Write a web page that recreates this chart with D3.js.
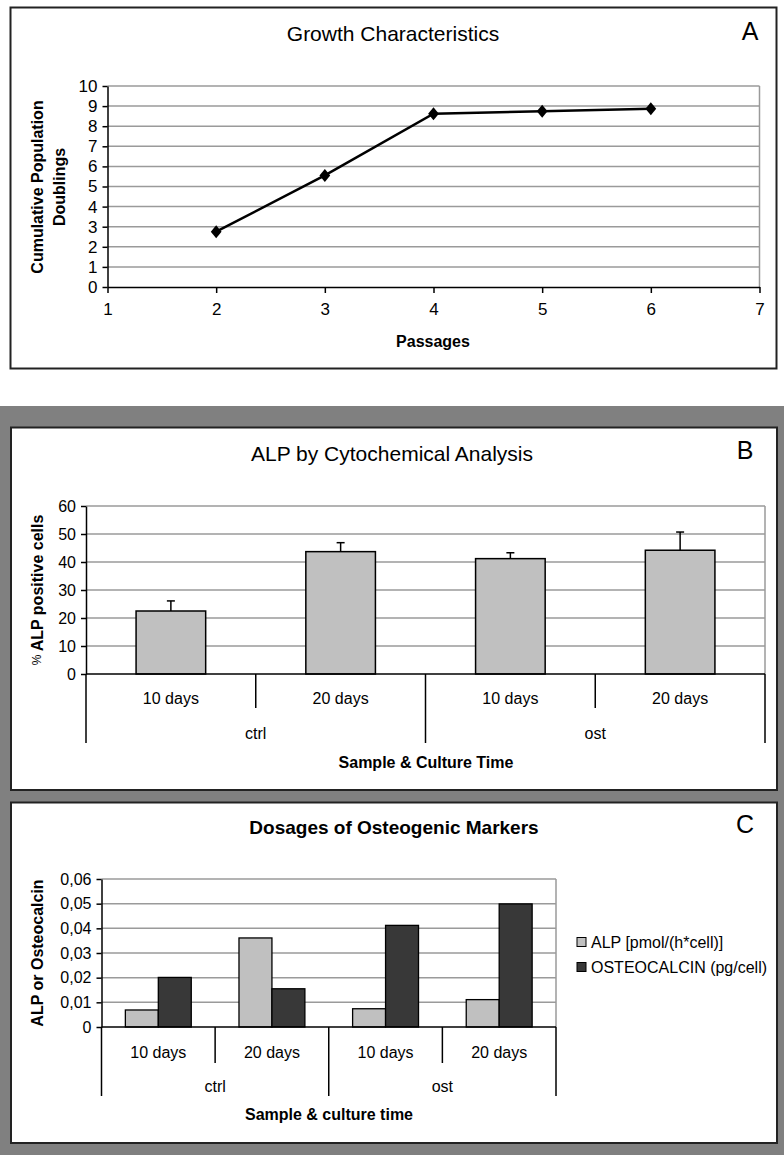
<!DOCTYPE html>
<html>
<head>
<meta charset="utf-8">
<script src="https://cdn.jsdelivr.net/npm/d3@7"></script>
<style>
    body { margin: 0; background: #fff; }
    svg { display: block; font-family: 'Liberation Sans', Arial, sans-serif; }
    .grid line { stroke: #9a9a9a; stroke-width: 1.5; }
    .axis path, .axis line { stroke: #000; stroke-width: 1.5; }
    .axis text { fill: #000; font-size: 16px; }
</style>
</head>
<body>
<div id="chart"></div>
<script>
//Data panel A
let passages = [2, 3, 4, 5, 6];
let doublings = [2.75, 5.55, 8.62, 8.74, 8.87];
let passageTicks = [1, 2, 3, 4, 5, 6, 7];
let doublingTicks = [0, 1, 2, 3, 4, 5, 6, 7, 8, 9, 10];

//Data panels B and C
let groups = ['ctrl', 'ost'];
let times = ['10 days', '20 days'];
let alpPositive = [22.5, 43.7, 41.2, 44.2];
let alpPositiveError = [3.6, 3.2, 2.1, 6.5];
let alpTicks = [0, 10, 20, 30, 40, 50, 60];

let seriesC = ['ALP [pmol/(h*cell)]', 'OSTEOCALCIN (pg/cell)'];
let alpDosage = [0.0069, 0.0361, 0.0074, 0.0111];
let osteocalcin = [0.0201, 0.0155, 0.0412, 0.0499];
let dosageTicks = [0, 0.01, 0.02, 0.03, 0.04, 0.05, 0.06];

let light_bar = '#c0c0c0', dark_bar = '#383838';

let svg = d3.select('#chart').append('svg')
    .attr('width', 784)
    .attr('height', 1155);

//Backgrounds and panel frames
svg.append('rect').attr('width', 784).attr('height', 1155).attr('fill', '#fff');
svg.append('rect').attr('y', 406).attr('width', 784).attr('height', 749).attr('fill', '#808080');
[[10.5, 7.5, 766, 361], [11, 427.5, 766, 362.5], [11, 802.5, 766, 340.5]].forEach(function(p) {
    svg.append('rect')
        .attr('x', p[0]).attr('y', p[1]).attr('width', p[2]).attr('height', p[3])
        .attr('fill', '#fff').attr('stroke', '#222').attr('stroke-width', 2);
});

function addText(x, y, txt, size, weight, anchor) {
    return svg.append('text')
        .attr('x', x).attr('y', y)
        .attr('dominant-baseline', 'central')
        .attr('text-anchor', anchor || 'middle')
        .style('font-size', size + 'px')
        .style('font-weight', weight || 'normal')
        .text(txt);
}

function yGrid(y, ticks, x0, x1) {
    svg.append('g').attr('class', 'grid')
        .selectAll('line')
        .data(ticks.filter(function(d) { return d != 0; }))
        .enter().append('line')
        .attr('x1', x0).attr('x2', x1)
        .attr('y1', function(d) { return y(d); })
        .attr('y2', function(d) { return y(d); });
    svg.append('line').attr('class', 'grid')
        .attr('x1', x1).attr('x2', x1)
        .attr('y1', y(ticks[0])).attr('y2', y(ticks[ticks.length - 1]))
        .attr('stroke', '#9a9a9a').attr('stroke-width', 1.5);
}

function yAxis(y, ticks, x0, fmt) {
    svg.append('g').attr('class', 'axis')
        .attr('transform', 'translate(' + x0 + ',0)')
        .call(d3.axisLeft(y).tickValues(ticks).tickSize(5).tickSizeOuter(0).tickPadding(5).tickFormat(fmt));
}

/* Panel A - line chart */
function getFirstChart() {
    let x = d3.scaleLinear().domain([1, 7]).range([107.5, 759.5]);
    let y = d3.scaleLinear().domain([0, 10]).range([287, 86]);

    yGrid(y, doublingTicks, x(1), x(7));
    yAxis(y, doublingTicks, x(1), d3.format('d'));
    svg.selectAll('.axis text').style('font-size', '17px');

    svg.append('g').attr('class', 'axis')
        .attr('transform', 'translate(0,' + y(0) + ')')
        .call(d3.axisBottom(x).tickValues(passageTicks).tickSize(6).tickSizeOuter(0).tickPadding(10).tickFormat(d3.format('d')))
        .selectAll('text').style('font-size', '17px');

    let data = passages.map(function(p, i) { return {x: p, y: doublings[i]}; });

    svg.append('path')
        .datum(data)
        .attr('fill', 'none')
        .attr('stroke', '#000')
        .attr('stroke-width', 2.5)
        .attr('d', d3.line().x(function(d) { return x(d.x); }).y(function(d) { return y(d.y); }));

    svg.selectAll('.marker')
        .data(data)
        .enter().append('path')
        .attr('class', 'marker')
        .attr('d', d3.symbol(d3.symbolSquare, 64))
        .attr('transform', function(d) { return 'translate(' + x(d.x) + ',' + y(d.y) + ') scale(0.95,1.15) rotate(45)'; })
        .attr('fill', '#000');

    addText(393, 33, 'Growth Characteristics', 21);
    addText(750, 31, 'A', 25);
    addText(433, 341, 'Passages', 16, 'bold');

    let yt = svg.append('text')
        .attr('transform', 'translate(37,187) rotate(-90)')
        .attr('text-anchor', 'middle')
        .style('font-size', '16px').style('font-weight', 'bold');
    yt.append('tspan').attr('x', 0).attr('dy', '0.35em').text('Cumulative Population');
    yt.append('tspan').attr('x', 0).attr('dy', '1.4em').text('Doublings');
}

/* Category axis with two levels (time / group) */
function categoryAxis(x, y0, shortLen, longLen, labelY, groupY) {
    let keys = x.domain();
    let bw = x.bandwidth();
    let edges = d3.range(keys.length + 1).map(function(i) { return x.range()[0] + i * bw; });

    svg.append('line')
        .attr('x1', edges[0]).attr('x2', edges[edges.length - 1])
        .attr('y1', y0).attr('y2', y0)
        .attr('stroke', '#000').attr('stroke-width', 1.5);

    svg.selectAll(null)
        .data(edges)
        .enter().append('line')
        .attr('x1', function(d) { return d; }).attr('x2', function(d) { return d; })
        .attr('y1', y0)
        .attr('y2', function(d, i) { return y0 + (i % times.length == 0 ? longLen : shortLen); })
        .attr('stroke', '#000').attr('stroke-width', 1.5);

    keys.forEach(function(k, i) {
        addText(x(k) + bw / 2, labelY, times[i % times.length], 16);
    });
    groups.forEach(function(g, i) {
        addText(edges[i * times.length] + bw * times.length / 2, groupY, g, 16);
    });
}

/* Panel B - bars with error */
function getSecondChart() {
    let keys = [];
    groups.forEach(function(g) { times.forEach(function(t) { keys.push(g + '-' + t); }); });

    let x = d3.scaleBand().domain(keys).range([86, 765]);
    let y = d3.scaleLinear().domain([0, 60]).range([674, 506]);

    yGrid(y, alpTicks, 86, 765);

    let barW = x.bandwidth() * 0.41;
    let data = keys.map(function(k, i) { return {key: k, value: alpPositive[i], err: alpPositiveError[i]}; });

    svg.selectAll('.bar-b')
        .data(data)
        .enter().append('rect')
        .attr('class', 'bar-b')
        .attr('x', function(d) { return x(d.key) + (x.bandwidth() - barW) / 2; })
        .attr('y', function(d) { return y(d.value); })
        .attr('width', barW)
        .attr('height', function(d) { return y(0) - y(d.value); })
        .attr('fill', light_bar).attr('stroke', '#000').attr('stroke-width', 1.5);

    let err = svg.selectAll('.err')
        .data(data)
        .enter().append('g').attr('class', 'err')
        .attr('stroke', '#000').attr('stroke-width', 1.5);
    err.append('line')
        .attr('x1', function(d) { return x(d.key) + x.bandwidth() / 2; })
        .attr('x2', function(d) { return x(d.key) + x.bandwidth() / 2; })
        .attr('y1', function(d) { return y(d.value); })
        .attr('y2', function(d) { return y(d.value + d.err); });
    err.append('line')
        .attr('x1', function(d) { return x(d.key) + x.bandwidth() / 2 - 4; })
        .attr('x2', function(d) { return x(d.key) + x.bandwidth() / 2 + 4; })
        .attr('y1', function(d) { return y(d.value + d.err); })
        .attr('y2', function(d) { return y(d.value + d.err); });

    yAxis(y, alpTicks, 86, d3.format('d'));
    categoryAxis(x, y(0), 34, 69, 698, 733);

    addText(392, 453, 'ALP by Cytochemical Analysis', 21);
    addText(745, 450, 'B', 25);
    addText(426, 762, 'Sample & Culture Time', 16, 'bold');

    let yt = svg.append('text')
        .attr('transform', 'translate(37,590) rotate(-90)')
        .attr('text-anchor', 'middle')
        .attr('dominant-baseline', 'central')
        .style('font-size', '16px').style('font-weight', 'bold');
    yt.append('tspan').style('font-weight', 'normal').style('font-size', '12px').text('% ');
    yt.append('tspan').text('ALP positive cells');
}

/* Panel C - grouped bars */
function getThirdChart() {
    let keys = [];
    groups.forEach(function(g) { times.forEach(function(t) { keys.push(g + '-' + t); }); });

    let x = d3.scaleBand().domain(keys).range([101.5, 556]);
    let y = d3.scaleLinear().domain([0, 0.06]).range([1027, 879]);
    let pairW = x.bandwidth() * 0.58;
    let xs = d3.scaleBand().domain(seriesC).range([0, pairW]);
    let colors = d3.scaleOrdinal().domain(seriesC).range([light_bar, dark_bar]);

    yGrid(y, dosageTicks, 101.5, 556);

    let data = [];
    keys.forEach(function(k, i) {
        data.push({key: k, s: seriesC[0], value: alpDosage[i]});
        data.push({key: k, s: seriesC[1], value: osteocalcin[i]});
    });

    svg.selectAll('.bar-c')
        .data(data)
        .enter().append('rect')
        .attr('class', 'bar-c')
        .attr('x', function(d) { return x(d.key) + (x.bandwidth() - pairW) / 2 + xs(d.s); })
        .attr('y', function(d) { return y(d.value); })
        .attr('width', xs.bandwidth())
        .attr('height', function(d) { return y(0) - y(d.value); })
        .attr('fill', function(d) { return colors(d.s); })
        .attr('stroke', '#000').attr('stroke-width', 1.3);

    yAxis(y, dosageTicks, 101.5, function(d) { return d == 0 ? '0' : d3.format('.2f')(d).replace('.', ','); });
    categoryAxis(x, y(0), 36, 69, 1052, 1086);

    addText(394, 827, 'Dosages of Osteogenic Markers', 19, 'bold');
    addText(745, 824, 'C', 25);
    addText(329, 1114, 'Sample & culture time', 16, 'bold');

    svg.append('text')
        .attr('transform', 'translate(37,953) rotate(-90)')
        .attr('text-anchor', 'middle')
        .attr('dominant-baseline', 'central')
        .style('font-size', '16px').style('font-weight', 'bold')
        .text('ALP or Osteocalcin');

    //Legend
    let legend = svg.selectAll('.legend')
        .data(seriesC)
        .enter().append('g')
        .attr('class', 'legend')
        .attr('transform', function(d, i) { return 'translate(577,' + (942 + i * 25) + ')'; });
    legend.append('rect')
        .attr('x', 0).attr('y', -4.5).attr('width', 9).attr('height', 9)
        .attr('fill', function(d) { return colors(d); })
        .attr('stroke', '#000').attr('stroke-width', 1);
    legend.append('text')
        .attr('x', 14).attr('dominant-baseline', 'central')
        .style('font-size', '16px')
        .text(function(d) { return d; });
}

getFirstChart();
getSecondChart();
getThirdChart();
</script>
</body>
</html>
